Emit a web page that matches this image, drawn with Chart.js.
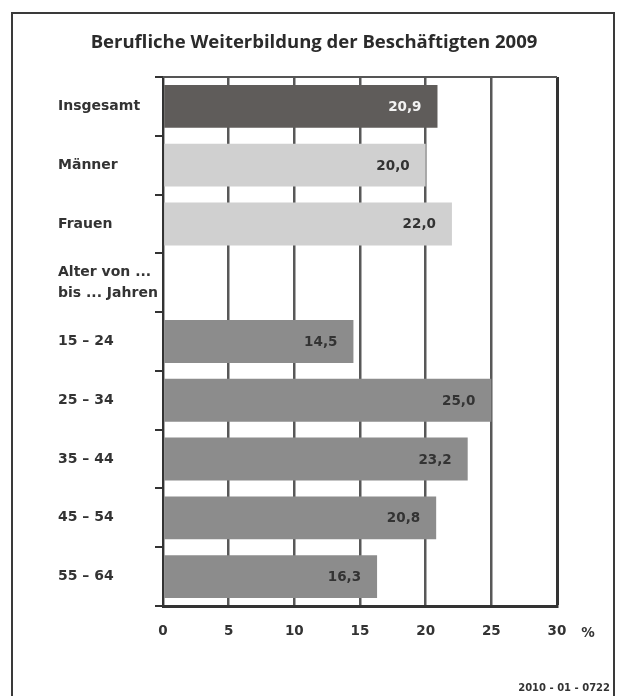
<!DOCTYPE html>
<html>
<head>
<meta charset="utf-8">
<script src="https://cdn.jsdelivr.net/npm/chart.js@4/dist/chart.umd.min.js"></script>
<style>
  html, body { margin: 0; padding: 0; background: #fff; }
  #wrap { width: 617px; height: 696px; position: relative; }
</style>
</head>
<body>
<div id="wrap"><canvas id="c" width="617" height="696"></canvas></div>
<script>
// Participation in job-related further training, 2009 (share in %)
const titleText = 'Berufliche Weiterbildung der Beschäftigten 2009';
const categories = [
  'Insgesamt',
  'Männer',
  'Frauen',
  ['Alter von ...', 'bis ... Jahren'],
  '15 – 24',
  '25 – 34',
  '35 – 44',
  '45 – 54',
  '55 – 64'
];
const shares = [20.9, 20.0, 22.0, null, 14.5, 25.0, 23.2, 20.8, 16.3];
const xTickValues = [0, 5, 10, 15, 20, 25, 30];
const unitLabel = '%';
const sourceCode = '2010 - 01 - 0722';

// Styling per group: total, by sex, by age
const barColors = ['#5f5c5a', '#d0d0d0', '#d0d0d0', '#ffffff',
  '#8c8c8c', '#8c8c8c', '#8c8c8c', '#8c8c8c', '#8c8c8c'];
const valueColors = ['#f2f2f2', '#333333', '#333333', '#333333',
  '#333333', '#333333', '#333333', '#333333', '#333333'];

const INK = '#333333';
const LABEL_FONT = 'DejaVu Sans';

const fmt = v => v.toFixed(1).replace('.', ',');

// Outer frame, title, top edge of the plot, unit and source code
const decorations = {
  id: 'decorations',
  beforeDraw(chart) {
    const ctx = chart.ctx;
    ctx.save();
    ctx.fillStyle = '#fff';
    ctx.fillRect(0, 0, chart.width, chart.height);
    ctx.strokeStyle = '#3a3a3a';
    ctx.lineWidth = 2;
    ctx.beginPath();
    ctx.moveTo(12, chart.height + 2);
    ctx.lineTo(12, 13);
    ctx.lineTo(614, 13);
    ctx.lineTo(614, chart.height + 2);
    ctx.stroke();
    ctx.restore();
  },
  afterDraw(chart) {
    const ctx = chart.ctx;
    const area = chart.chartArea;
    const x = chart.scales.x;
    ctx.save();
    // top edge of plot
    ctx.strokeStyle = '#555';
    ctx.lineWidth = 2;
    ctx.beginPath();
    ctx.moveTo(area.left, area.top);
    ctx.lineTo(area.right, area.top);
    ctx.stroke();

    // title
    ctx.fillStyle = '#2b2b2b';
    ctx.font = 'bold 18.5px "Open Sans"';
    ctx.textAlign = 'center';
    ctx.textBaseline = 'middle';
    ctx.fillText(titleText, 314, 43);

    // unit next to the last tick label
    ctx.font = 'bold 13.5px "' + LABEL_FONT + '"';
    ctx.fillStyle = INK;
    ctx.fillText(unitLabel, x.getPixelForValue(30) + 31, 633);

    // source code
    ctx.font = 'bold 10px "' + LABEL_FONT + '"';
    ctx.textAlign = 'right';
    ctx.fillText(sourceCode, 610, 688);
    ctx.restore();
  }
};

// Values printed inside the end of each bar
const barValues = {
  id: 'barValues',
  afterDatasetsDraw(chart) {
    const ctx = chart.ctx;
    const meta = chart.getDatasetMeta(0);
    ctx.save();
    ctx.font = 'bold 13.5px "' + LABEL_FONT + '"';
    ctx.textAlign = 'right';
    ctx.textBaseline = 'middle';
    meta.data.forEach((bar, i) => {
      const v = shares[i];
      if (v === null) return;
      ctx.fillStyle = valueColors[i];
      ctx.fillText(fmt(v), bar.x - 16, bar.y + 1);
    });
    ctx.restore();
  }
};

new Chart(document.getElementById('c'), {
  type: 'bar',
  data: {
    labels: categories,
    datasets: [{
      data: shares,
      backgroundColor: barColors,
      borderWidth: 0,
      categoryPercentage: 1.0,
      barPercentage: 0.73
    }]
  },
  options: {
    indexAxis: 'y',
    responsive: false,
    animation: false,
    devicePixelRatio: 1,
    layout: { padding: { top: 77, left: 58, right: 60, bottom: 40 } },
    plugins: {
      legend: { display: false },
      tooltip: { enabled: false },
      title: { display: false }
    },
    scales: {
      x: {
        type: 'linear',
        min: 0,
        max: 30,
        afterBuildTicks: s => { s.ticks = xTickValues.map(v => ({ value: v })); },
        ticks: {
          color: INK,
          font: { family: LABEL_FONT, weight: 'bold', size: 13.5, lineHeight: 1.185 },
          padding: 17
        },
        grid: {
          drawTicks: false,
          color: c => (c.tick && c.tick.value === 30) ? '#333' : '#585858',
          lineWidth: c => (c.tick && c.tick.value === 30) ? 3 : 2.5
        },
        border: { color: INK, width: 3 }
      },
      y: {
        afterFit: s => { s.width = 105; },
        ticks: {
          autoSkip: false,
          crossAlign: 'far',
          color: INK,
          font: { family: LABEL_FONT, weight: 'bold', size: 14, lineHeight: 1.45 }
        },
        grid: {
          offset: true,
          drawOnChartArea: false,
          tickLength: 8,
          color: INK,
          lineWidth: 2
        },
        border: { color: INK, width: 2 }
      }
    }
  },
  plugins: [decorations, barValues]
});
</script>
</body>
</html>
